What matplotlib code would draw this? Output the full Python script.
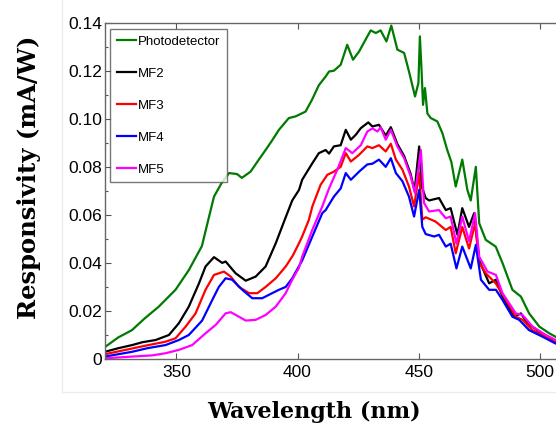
import numpy as np
import matplotlib
matplotlib.use("Agg")
import matplotlib.pyplot as plt
from matplotlib.lines import Line2D
from matplotlib.ticker import MultipleLocator

# values (wavelength in nm, responsivity in mA/W)
pd_wl = [320.5, 326, 331.6, 337, 342.7, 349.6, 355.1, 360.5, 363.4, 365.5, 368.5, 371.7,
         375, 377, 380.6, 384, 386.8, 389.5, 392.3, 396.4, 399.2, 403.3, 406, 408.8,
         411.6, 413, 415, 417.8, 420.5, 422.9, 425.4, 428.1, 430.2, 432.3, 434.3, 436.7,
         438.7, 441.2, 444, 446, 448.5, 449.9, 450.5, 451.2, 451.8, 452.6, 453.6, 455,
         457.7, 459.8, 461.8, 463.5, 465.3, 468, 470.1, 471.5, 473.6, 475, 477.7, 481.8,
         484.6, 488.7, 492.2, 495.6, 499.8, 503.9, 507, 510]
pd_val = [0.005, 0.009, 0.012, 0.017, 0.0218, 0.0288, 0.037, 0.047, 0.059, 0.0676, 0.073, 0.0774,
          0.077, 0.0754, 0.078, 0.083, 0.087, 0.091, 0.0954, 0.1003, 0.101, 0.103, 0.108, 0.114,
          0.1176, 0.1197, 0.120, 0.1225, 0.1308, 0.1246, 0.128, 0.133, 0.1368, 0.1357, 0.1368, 0.1322,
          0.1388, 0.1288, 0.1274, 0.1197, 0.1093, 0.1149, 0.1343, 0.120, 0.1058, 0.1128, 0.1022, 0.1003,
          0.0989, 0.094, 0.087, 0.082, 0.0718, 0.083, 0.0704, 0.066, 0.080, 0.0565, 0.0496, 0.0468,
          0.040, 0.0288, 0.026, 0.019, 0.0135, 0.0107, 0.009, 0.008]

mf2_wl = [320.5, 326, 331.7, 336, 341.4, 346.9, 351, 355.1, 359.3, 362, 365.5, 368.9, 370.3,
          374.4, 378.6, 382.7, 386.8, 391, 395.1, 397.8, 400.6, 401.9, 406.1, 408.8, 411.6,
          413, 415, 417.8, 419.9, 422, 424, 426.1, 429.2, 430.9, 433.6, 436.4, 438.5, 441.2,
          444, 446.7, 448.3, 450.2, 451.2, 452.9, 454.3, 458.4, 461.2, 463.2, 466, 468,
          470.8, 472.9, 475, 479.1, 481.9, 484.6, 489.4, 492.2, 494.9, 499.8, 506, 510]
mf2_val = [0.003, 0.0045, 0.0058, 0.007, 0.0079, 0.010, 0.0149, 0.0218, 0.0315, 0.0385, 0.0424, 0.040, 0.0406,
           0.0357, 0.0326, 0.0343, 0.0385, 0.0482, 0.059, 0.066, 0.0704, 0.0746, 0.0815, 0.0857, 0.087,
           0.0855, 0.0885, 0.089, 0.0954, 0.0913, 0.0933, 0.0961, 0.0985, 0.0968, 0.0975, 0.093, 0.0965, 0.0895,
           0.0845, 0.077, 0.070, 0.0885, 0.072, 0.067, 0.066, 0.067, 0.062, 0.0628, 0.0517, 0.0628,
           0.055, 0.0607, 0.041, 0.0315, 0.033, 0.026, 0.0176, 0.019, 0.0149, 0.0114, 0.0072, 0.006]

mf3_wl = [320.5, 329, 337, 345.5, 349.6, 353.8, 357.9, 362, 365.5, 369.6, 372.4, 375.8, 380,
          383.4, 386.8, 391, 395.1, 398, 400.6, 401.9, 404.7, 406.1, 409.5, 412.3, 415, 417.8,
          419.9, 422, 425.4, 428.8, 430.9, 433.6, 436.4, 438.5, 440.6, 443.3, 446, 448.1,
          450.2, 451.5, 452.9, 457, 461.2, 463.2, 465.3, 468, 470.8, 473.3, 475, 477.7,
          481.8, 486, 490.1, 492.9, 497, 502.5, 506.4, 510]
mf3_val = [0.002, 0.0038, 0.0055, 0.0072, 0.0086, 0.0135, 0.019, 0.0288, 0.035, 0.0364, 0.0343, 0.030, 0.0274,
           0.0274, 0.030, 0.0336, 0.0385, 0.043, 0.0482, 0.051, 0.058, 0.0635, 0.0725, 0.0767, 0.078, 0.080,
           0.0857, 0.0822, 0.085, 0.0885, 0.0878, 0.089, 0.0864, 0.0896, 0.083, 0.0788, 0.0718, 0.0635,
           0.0774, 0.058, 0.059, 0.0572, 0.0537, 0.055, 0.044, 0.055, 0.046, 0.0565, 0.040, 0.0357,
           0.0315, 0.0246, 0.0176, 0.0163, 0.012, 0.0093, 0.0072, 0.006]

mf4_wl = [320.5, 326, 331.7, 338, 345.5, 351, 355.1, 360.6, 364.8, 367.5, 370.3, 373, 377.2,
          381.3, 385.4, 389.5, 392.3, 395.1, 397.8, 401.9, 406.1, 410.2, 411.6, 415, 417.8,
          419.9, 422, 425.4, 428.8, 430.9, 433.6, 436.4, 438.5, 440.6, 443.3, 446, 448.1,
          450.2, 451.5, 452.9, 456.4, 458.4, 461.2, 463.2, 465.6, 468, 471.5, 473.6, 475.7,
          479.1, 481.9, 484.6, 488.7, 491.5, 495.6, 501.1, 506.4, 510]
mf4_val = [0.001, 0.002, 0.003, 0.0045, 0.0058, 0.0079, 0.010, 0.016, 0.0246, 0.030, 0.0336, 0.033, 0.0288,
           0.0253, 0.0253, 0.0274, 0.0288, 0.030, 0.0336, 0.041, 0.051, 0.0607, 0.062, 0.0676, 0.071,
           0.0774, 0.0746, 0.078, 0.081, 0.0813, 0.083, 0.080, 0.0836, 0.0774, 0.074, 0.0676, 0.0593,
           0.0704, 0.055, 0.052, 0.051, 0.0517, 0.0468, 0.048, 0.0377, 0.0468, 0.0377, 0.0475, 0.033,
           0.0288, 0.0288, 0.0246, 0.0176, 0.0163, 0.012, 0.0093, 0.0065, 0.0055]

mf5_wl = [320.5, 331.7, 340, 345.5, 351, 356.5, 362, 366.2, 370.3, 372.4, 375.8, 378.6, 382.7,
          386.8, 391, 395.1, 397.8, 400.6, 401.9, 406.1, 410.2, 413, 416.4, 419.9, 422.6,
          426.1, 428.8, 430.9, 433, 434.3, 436.4, 438.5, 441.2, 444, 446.7, 448.5, 450.9,
          452.2, 454.3, 458.4, 461.2, 463.2, 465.6, 468, 470.8, 473.3, 475, 478.4, 481.9,
          484.6, 490.1, 492.9, 497, 502.5, 506.4, 510]
mf5_val = [0.0003, 0.001, 0.0015, 0.0024, 0.0038, 0.0058, 0.0107, 0.0142, 0.019, 0.0195, 0.0176, 0.016, 0.0163,
           0.0183, 0.0218, 0.0274, 0.033, 0.038, 0.0426, 0.0538, 0.0635, 0.071, 0.0788, 0.0878, 0.0857,
           0.089, 0.0947, 0.096, 0.0947, 0.0965, 0.0913, 0.0954, 0.0885, 0.0836, 0.076, 0.069, 0.087,
           0.065, 0.0614, 0.062, 0.0586, 0.0593, 0.048, 0.0593, 0.049, 0.0607, 0.0426, 0.0364, 0.035,
           0.0274, 0.019, 0.0183, 0.0135, 0.010, 0.008, 0.007]

labels = ["Photodetector", "MF2", "MF3", "MF4", "MF5"]
colors = ["#007a00", "black", "#ff0000", "#0000ff", "#ff00ff"]

x_ticks = [350, 400, 450, 500]
y_ticks = [0, 0.02, 0.04, 0.06, 0.08, 0.10, 0.12, 0.14]
y_tick_labels = ["0", "0.02", "0.04", "0.06", "0.08", "0.10", "0.12", "0.14"]

plt.rcParams['font.family'] = ['Liberation Sans', 'DejaVu Sans']

fig = plt.figure(figsize=(5.56, 4.25), dpi=100)
ax = fig.add_axes([105 / 556, 1 - 359 / 425, 459 / 556, 336.3 / 425])

series = [(pd_wl, pd_val), (mf2_wl, mf2_val), (mf3_wl, mf3_val), (mf4_wl, mf4_val), (mf5_wl, mf5_val)]
for (wl, val), lab, col in zip(series, labels, colors):
    ax.plot(wl, val, color=col, lw=1.6, label=lab)

ax.set_xlim(320.5, 510)
ax.set_ylim(0, 0.14)
ax.set_xticks(x_ticks)
ax.set_yticks(y_ticks)
ax.set_yticklabels(y_tick_labels)
ax.yaxis.set_minor_locator(MultipleLocator(0.01))

ax.tick_params(which='major', direction='in', length=4, width=0.8, color='#555555',
               labelsize=12.5, top=True, right=False, pad=4)
ax.tick_params(which='minor', direction='in', length=2, width=0.8, color='#555555')
ax.tick_params(axis='y', pad=2)
for s in ['left', 'bottom', 'top']:
    ax.spines[s].set_color('#666666')
    ax.spines[s].set_linewidth(1.0)
ax.spines['right'].set_visible(False)

ax.set_xlabel('Wavelength (nm)', family='DejaVu Serif', fontweight='bold', fontsize=16)
ax.xaxis.set_label_coords(0.455, -0.125)
ax.set_ylabel('Responsivity (mA/W)', family='DejaVu Serif', fontweight='bold', fontsize=17.5)
ax.yaxis.set_label_coords(-0.14, 0.54)

leg = ax.legend(loc='upper left', bbox_to_anchor=(5 / 459, 1 - 6 / 336), borderaxespad=0,
                fontsize=9.5, handlelength=1.5, handletextpad=0.1, labelspacing=1.5,
                fancybox=False, frameon=True, borderpad=0.5)
leg.get_frame().set_edgecolor('#555555')
leg.get_frame().set_linewidth(1.0)

# faint border of the original figure window
fig.add_artist(Line2D([62 / 556, 62 / 556], [1 - 392 / 425, 1.0], color='#ececec', lw=1))
fig.add_artist(Line2D([62 / 556, 1.0], [1 - 392 / 425, 1 - 392 / 425], color='#ececec', lw=1))

fig.savefig('out.png', dpi=100)
